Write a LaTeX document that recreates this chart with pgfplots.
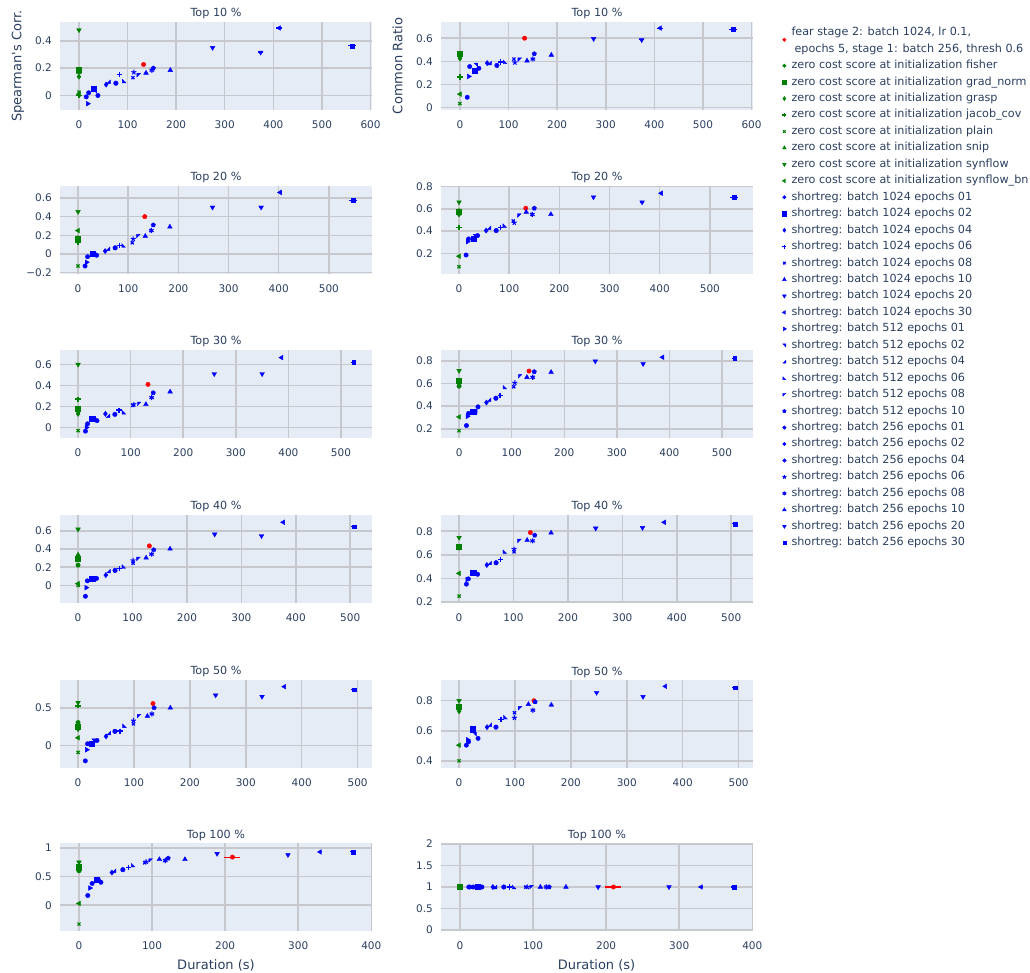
\documentclass[border=0pt]{standalone}
\usepackage{pgfplots}
\pgfplotsset{compat=1.18}
\usepackage{pgfplotstable}
\usepackage{fontspec}
\setmainfont{DejaVu Sans}
\definecolor{bgc}{RGB}{229,236,246}
\definecolor{gridc}{RGB}{198,200,205}
\definecolor{txt}{RGB}{42,63,95}
\definecolor{zg}{RGB}{0,128,0}
\definecolor{bb}{RGB}{0,0,255}
\definecolor{rr}{RGB}{255,0,0}
\newcommand\tickfont{\fontsize{10.5}{12}\selectfont}
\newcommand\titfont{\fontsize{11.2}{13}\selectfont}
\newcommand\legfont{\fontsize{11.2}{13}\selectfont}
\newcommand\labfont{\fontsize{13}{15}\selectfont}

\pgfdeclareplotmark{tup}{\pgfpathmoveto{\pgfpointpolar{90}{\pgfplotmarksize}}\pgfpathlineto{\pgfpointpolar{210}{\pgfplotmarksize}}\pgfpathlineto{\pgfpointpolar{330}{\pgfplotmarksize}}\pgfpathclose\pgfusepathqfillstroke}
\pgfdeclareplotmark{tdn}{\pgfpathmoveto{\pgfpointpolar{270}{\pgfplotmarksize}}\pgfpathlineto{\pgfpointpolar{30}{\pgfplotmarksize}}\pgfpathlineto{\pgfpointpolar{150}{\pgfplotmarksize}}\pgfpathclose\pgfusepathqfillstroke}
\pgfdeclareplotmark{tlf}{\pgfpathmoveto{\pgfpointpolar{180}{\pgfplotmarksize}}\pgfpathlineto{\pgfpointpolar{300}{\pgfplotmarksize}}\pgfpathlineto{\pgfpointpolar{60}{\pgfplotmarksize}}\pgfpathclose\pgfusepathqfillstroke}
\pgfdeclareplotmark{trt}{\pgfpathmoveto{\pgfpointpolar{0}{\pgfplotmarksize}}\pgfpathlineto{\pgfpointpolar{120}{\pgfplotmarksize}}\pgfpathlineto{\pgfpointpolar{240}{\pgfplotmarksize}}\pgfpathclose\pgfusepathqfillstroke}
\pgfdeclareplotmark{tne}{\pgfpathmoveto{\pgfpoint{\pgfplotmarksize}{\pgfplotmarksize}}\pgfpathlineto{\pgfpoint{-\pgfplotmarksize}{\pgfplotmarksize}}\pgfpathlineto{\pgfpoint{\pgfplotmarksize}{-\pgfplotmarksize}}\pgfpathclose\pgfusepathqfillstroke}
\pgfdeclareplotmark{tse}{\pgfpathmoveto{\pgfpoint{\pgfplotmarksize}{-\pgfplotmarksize}}\pgfpathlineto{\pgfpoint{-\pgfplotmarksize}{-\pgfplotmarksize}}\pgfpathlineto{\pgfpoint{\pgfplotmarksize}{\pgfplotmarksize}}\pgfpathclose\pgfusepathqfillstroke}
\pgfdeclareplotmark{tsw}{\pgfpathmoveto{\pgfpoint{-\pgfplotmarksize}{-\pgfplotmarksize}}\pgfpathlineto{\pgfpoint{\pgfplotmarksize}{-\pgfplotmarksize}}\pgfpathlineto{\pgfpoint{-\pgfplotmarksize}{\pgfplotmarksize}}\pgfpathclose\pgfusepathqfillstroke}
\pgfdeclareplotmark{tnw}{\pgfpathmoveto{\pgfpoint{-\pgfplotmarksize}{\pgfplotmarksize}}\pgfpathlineto{\pgfpoint{\pgfplotmarksize}{\pgfplotmarksize}}\pgfpathlineto{\pgfpoint{-\pgfplotmarksize}{-\pgfplotmarksize}}\pgfpathclose\pgfusepathqfillstroke}

\tikzset{
 mkfear/.style={mark=*, rr, mark size=2.2pt},
 mkzfi/.style={mark=*, zg, mark size=2.2pt},
 mkzgn/.style={mark=square*, zg, mark size=2.5pt},
 mkzgr/.style={mark=diamond*, zg, mark size=2.6pt},
 mkzjc/.style={mark=+, zg, mark size=2.6pt, line width=1.3pt},
 mkzpl/.style={mark=x, zg, mark size=2.2pt, line width=1.2pt},
 mkzsn/.style={mark=tup, zg, mark size=2.7pt},
 mkzsy/.style={mark=tdn, zg, mark size=2.7pt},
 mkzsb/.style={mark=tlf, zg, mark size=2.7pt},
 mka01/.style={mark=*, bb, mark size=2.2pt},
 mka02/.style={mark=square*, bb, mark size=2.6pt},
 mka04/.style={mark=diamond*, bb, mark size=2.6pt},
 mka06/.style={mark=+, bb, mark size=2.6pt, line width=1.3pt},
 mka08/.style={mark=x, bb, mark size=2.2pt, line width=1.2pt},
 mka10/.style={mark=tup, bb, mark size=2.7pt},
 mka20/.style={mark=tdn, bb, mark size=2.7pt},
 mka30/.style={mark=tlf, bb, mark size=2.7pt},
 mkb01/.style={mark=trt, bb, mark size=2.7pt},
 mkb02/.style={mark=tne, bb, mark size=1.8pt},
 mkb04/.style={mark=tse, bb, mark size=1.8pt},
 mkb06/.style={mark=tsw, bb, mark size=1.8pt},
 mkb08/.style={mark=tnw, bb, mark size=1.8pt},
 mkb10/.style={mark=pentagon*, bb, mark size=2.3pt},
 mkc01/.style={mark=*, bb, mark size=2.2pt},
 mkc02/.style={mark=*, bb, mark size=2.2pt},
 mkc04/.style={mark=*, bb, mark size=2.3pt},
 mkc06/.style={mark=star, bb, mark size=2.6pt, line width=1pt},
 mkc08/.style={mark=asterisk, bb, mark size=2.6pt, line width=1.1pt},
 mkc10/.style={mark=tup, bb, mark size=2.7pt},
 mkc20/.style={mark=tdn, bb, mark size=2.7pt},
 mkc30/.style={mark=square*, bb, mark size=1.9pt},
}

\pgfplotsset{
 classes/.style={scatter/classes={fear={mkfear},zfi={mkzfi},zgn={mkzgn},zgr={mkzgr},zjc={mkzjc},zpl={mkzpl},zsn={mkzsn},zsy={mkzsy},zsb={mkzsb},
  a01={mka01},a02={mka02},a04={mka04},a06={mka06},a08={mka08},a10={mka10},a20={mka20},a30={mka30},
  b01={mkb01},b02={mkb02},b04={mkb04},b06={mkb06},b08={mkb08},b10={mkb10},
  c01={mkc01},c02={mkc02},c04={mkc04},c06={mkc06},c08={mkc08},c10={mkc10},c20={mkc20},c30={mkc30}}},
 panel/.style={scale only axis, width=312pt, height=88pt, anchor=north west,
  axis background/.style={fill=bgc}, axis line style={draw=none}, major tick length=0pt,
  grid=major, grid style={draw=gridc, line width=1.5pt},
  /pgf/number format/assume math mode=true,
  tick label style={font=\tickfont, text=txt},
  xticklabel style={anchor=north, inner sep=0pt, yshift=-11pt},
  yticklabel style={anchor=east, inner sep=0pt, xshift=-8pt},
  title style={at={(0.5,1)}, anchor=base, yshift=-1pt, inner sep=0pt, font=\titfont, text=txt},
  clip=false},
 pts/.style={scatter, only marks, scatter src=explicit symbolic, classes, forget plot},
 errb/.style={draw=none, mark=none, forget plot, skip coords between index={0}{1},
   error bars/.cd, x dir=both, x explicit, error mark=none, error bar style={bb, line width=1.1pt}},
 errr/.style={draw=none, mark=none, forget plot, skip coords between index={1}{40},
   error bars/.cd, x dir=both, x explicit, error mark=none, error bar style={rr, line width=1.1pt}},
}

\pgfplotstableread{
x sp cr ex c
133 0.227 0.600 0 fear
0 0.180 0.445 0 zfi
0 0.190 0.470 0 zgn
0 0.138 0.425 0 zgr
0 0.000 0.265 0 zjc
0 0.025 0.035 0 zpl
0 0.170 0.455 0 zsn
0 0.479 0.460 0 zsy
0 0.010 0.117 0 zsb
15 -0.010 0.090 0 a01
30 0.050 0.320 0 a02
56 0.080 0.385 0 a04
84 0.155 0.395 0 a06
111 0.130 0.420 0 a08
138 0.165 0.405 0 a10
275 0.350 0.595 3 a20
412 0.494 0.687 6 a30
18 -0.060 0.270 0 b01
33 0.030 0.370 0 b02
61 0.100 0.385 0 b04
93 0.105 0.395 0 b06
123 0.150 0.415 0 b08
153 0.200 0.465 0 b10
20 0.020 0.355 0 c01
39 0.000 0.340 0 c02
76 0.090 0.365 0 c04
113 0.170 0.390 0 c06
150 0.185 0.420 0 c08
188 0.185 0.455 0 c10
374 0.315 0.585 5 c20
562 0.363 0.675 9 c30
}\rowA

\pgfplotstableread{
x sp cr ex c
133 0.400 0.605 0 fear
0 0.150 0.560 0 zfi
0 0.160 0.570 0 zgn
0 0.130 0.550 0 zgr
0 0.120 0.435 0 zjc
0 -0.130 0.080 0 zpl
0 0.170 0.580 0 zsn
0 0.453 0.660 0 zsy
0 0.250 0.175 0 zsb
14 -0.130 0.185 0 a01
29 0.000 0.330 0 a02
54 0.030 0.405 0 a04
82 0.090 0.430 0 a06
108 0.120 0.490 0 a08
134 0.190 0.570 0 a10
268 0.500 0.705 2 a20
403 0.660 0.740 4 a30
17 -0.090 0.305 0 b01
32 0.000 0.355 0 b02
60 0.055 0.430 0 b04
91 0.090 0.450 0 b06
120 0.190 0.540 0 b08
150 0.310 0.605 0 b10
19 -0.030 0.330 0 c01
37 -0.015 0.360 0 c02
74 0.065 0.405 0 c04
110 0.160 0.475 0 c06
146 0.250 0.550 0 c08
183 0.290 0.550 0 c10
365 0.500 0.660 4 c20
548 0.577 0.705 8 c30
}\rowB

\pgfplotstableread{
x sp cr ex c
133 0.410 0.710 0 fear
0 0.160 0.577 0 zfi
0 0.175 0.623 0 zgn
0 0.130 0.580 0 zgr
0 0.270 0.600 0 zjc
0 -0.030 0.183 0 zpl
0 0.180 0.620 0 zsn
0 0.600 0.713 0 zsy
0 0.160 0.305 0 zsb
14 -0.035 0.229 0 a01
27 0.080 0.353 0 a02
52 0.130 0.432 0 a04
78 0.165 0.496 0 a06
104 0.210 0.571 0 a08
129 0.220 0.655 0 a10
259 0.510 0.797 0 a20
387 0.665 0.832 3 a30
16 0.000 0.310 0 b01
31 0.075 0.355 0 b02
57 0.110 0.455 0 b04
87 0.145 0.568 0 b06
116 0.225 0.664 0 b08
143 0.330 0.704 0 b10
18 0.035 0.336 0 c01
36 0.065 0.394 0 c02
70 0.125 0.470 0 c04
106 0.220 0.606 0 c06
140 0.285 0.655 0 c08
175 0.340 0.700 0 c10
350 0.510 0.774 3 c20
524 0.620 0.823 5 c30
}\rowC

\pgfplotstableread{
x sp cr ex c
131 0.435 0.789 0 fear
0 0.223 0.660 0 zfi
0 0.290 0.665 0 zgn
0 0.300 0.660 0 zgr
0 0.310 0.660 0 zjc
0 0.000 0.248 0 zpl
0 0.336 0.665 0 zsn
0 0.618 0.746 0 zsy
0 0.020 0.442 0 zsb
13.5 -0.120 0.350 0 a01
26 0.073 0.445 0 a02
51 0.113 0.513 0 a04
76 0.183 0.558 0 a06
101 0.245 0.625 0 a08
125 0.303 0.724 0 a10
251 0.563 0.825 0 a20
377 0.695 0.876 3 a30
15 -0.025 0.390 0 b01
29 0.075 0.440 0 b02
56 0.157 0.530 0 b04
84 0.208 0.627 0 b06
111 0.292 0.718 0 b08
139 0.391 0.766 0 b10
17 0.050 0.395 0 c01
34 0.077 0.434 0 c02
68 0.165 0.532 0 c04
101 0.274 0.648 0 c06
135 0.344 0.718 0 c08
169 0.402 0.786 0 c10
337 0.545 0.830 2 c20
507 0.647 0.862 5 c30
}\rowD

\pgfplotstableread{
x sp cr ex c
134 0.557 0.800 0 fear
0 0.307 0.750 0 zfi
0 0.250 0.760 0 zgn
0 0.220 0.730 0 zgr
0 0.526 0.740 0 zjc
0 -0.088 0.400 0 zpl
0 0.230 0.760 0 zsn
0 0.570 0.800 0 zsy
0 0.105 0.504 0 zsb
13 -0.200 0.504 0 a01
25 0.022 0.611 0 a02
50 0.123 0.624 0 a04
75 0.193 0.677 0 a06
99 0.290 0.720 0 a08
124 0.390 0.776 0 a10
246 0.667 0.854 0 a20
369 0.780 0.896 2 a30
15.6 -0.053 0.540 0 b01
28 0.066 0.577 0 b02
55 0.167 0.640 0 b04
83 0.263 0.690 0 b06
109 0.390 0.750 0 b08
136 0.500 0.792 0 b10
17 0.026 0.527 0 c01
34 0.070 0.549 0 c02
66 0.190 0.624 0 c04
99 0.330 0.686 0 c06
132 0.420 0.737 0 c08
165 0.500 0.772 0 c10
329 0.649 0.827 2 c20
494 0.740 0.887 5 c30
}\rowE

\pgfplotstableread{
x sp cr ex c
210 0.840 1 11 fear
0 0.600 1 0 zfi
0 0.650 1 0 zgn
0 0.620 1 0 zgr
0 0.700 1 0 zjc
0 -0.330 1 0 zpl
0 0.630 1 0 zsn
0 0.750 1 0 zsy
0 0.030 1 0 zsb
12 0.170 1 0 a01
24 0.450 1 0 a02
45 0.570 1 0 a04
68 0.660 1 0 a06
90 0.740 1 0 a08
110 0.800 1 0 a10
189 0.900 1 0 a20
330 0.930 1 3 a30
15 0.300 1 0 b01
27 0.430 1 0 b02
48 0.600 1 0 b04
74 0.700 1 0 b06
98 0.780 1 0 b08
122 0.820 1 0 b10
18 0.380 1 0 c01
30 0.400 1 0 c02
60 0.620 1 0 c04
92 0.760 1 0 c06
118 0.780 1 0 c08
145 0.800 1 0 c10
286 0.880 1 0 c20
375 0.930 1 4 c30
}\rowF

\begin{document}
\begin{tikzpicture}
\useasboundingbox (0,0) rectangle (1030pt,972pt);

% ---------- Row 1: Top 10
\begin{axis}[panel, at={(60pt,950pt)}, title={Top 10 \%},
 xmin=-39, xmax=603, ymin=-0.106, ymax=0.538,
 xtick={0,100,200,300,400,500,600}, ytick={0,0.2,0.4}, yticklabels={0,0.2,0.4}]
\addplot[errb] table[x=x, y=sp, x error=ex]{\rowA};
\addplot[pts] table[x=x, y=sp, meta=c]{\rowA};
\end{axis}
\begin{axis}[panel, at={(441pt,950pt)}, title={Top 10 \%},
 xmin=-39, xmax=603, ymin=-0.02, ymax=0.74,
 xtick={0,100,200,300,400,500,600}, ytick={0,0.2,0.4,0.6}, yticklabels={0,0.2,0.4,0.6},
 legend image code/.code={\draw[#1, mark options={scale=0.8}] plot coordinates {(0pt,0pt)};},
 legend cell align=left,
 legend style={at={(1.093,0.942)}, anchor=north west, draw=none, fill=none, inner sep=0pt,
   font=\legfont, text=txt, row sep=5.45pt, column sep=5pt,
   nodes={inner sep=0pt, text height=8.4pt, text depth=2.6pt}}]
\addplot[errb] table[x=x, y=cr, x error=ex]{\rowA};
\addplot[pts] table[x=x, y=cr, meta=c]{\rowA};
\addlegendimage{only marks, mkfear, yshift=-7pt, overlay}
\addlegendentry{fear stage 2: batch 1024, lr 0.1,}
\addlegendimage{empty legend}
\addlegendentry{\hspace{3pt}epochs 5, stage 1: batch 256, thresh 0.6}
\addlegendimage{only marks, mkzfi}\addlegendentry{zero cost score at initialization fisher}
\addlegendimage{only marks, mkzgn}\addlegendentry{zero cost score at initialization grad\_norm}
\addlegendimage{only marks, mkzgr}\addlegendentry{zero cost score at initialization grasp}
\addlegendimage{only marks, mkzjc}\addlegendentry{zero cost score at initialization jacob\_cov}
\addlegendimage{only marks, mkzpl}\addlegendentry{zero cost score at initialization plain}
\addlegendimage{only marks, mkzsn}\addlegendentry{zero cost score at initialization snip}
\addlegendimage{only marks, mkzsy}\addlegendentry{zero cost score at initialization synflow}
\addlegendimage{only marks, mkzsb}\addlegendentry{zero cost score at initialization synflow\_bn}
\addlegendimage{only marks, mka01}\addlegendentry{shortreg: batch 1024 epochs 01}
\addlegendimage{only marks, mka02}\addlegendentry{shortreg: batch 1024 epochs 02}
\addlegendimage{only marks, mka04}\addlegendentry{shortreg: batch 1024 epochs 04}
\addlegendimage{only marks, mka06}\addlegendentry{shortreg: batch 1024 epochs 06}
\addlegendimage{only marks, mka08}\addlegendentry{shortreg: batch 1024 epochs 08}
\addlegendimage{only marks, mka10}\addlegendentry{shortreg: batch 1024 epochs 10}
\addlegendimage{only marks, mka20}\addlegendentry{shortreg: batch 1024 epochs 20}
\addlegendimage{only marks, mka30}\addlegendentry{shortreg: batch 1024 epochs 30}
\addlegendimage{only marks, mkb01}\addlegendentry{shortreg: batch 512 epochs 01}
\addlegendimage{only marks, mkb02}\addlegendentry{shortreg: batch 512 epochs 02}
\addlegendimage{only marks, mkb04}\addlegendentry{shortreg: batch 512 epochs 04}
\addlegendimage{only marks, mkb06}\addlegendentry{shortreg: batch 512 epochs 06}
\addlegendimage{only marks, mkb08}\addlegendentry{shortreg: batch 512 epochs 08}
\addlegendimage{only marks, mkb10}\addlegendentry{shortreg: batch 512 epochs 10}
\addlegendimage{only marks, mkc01}\addlegendentry{shortreg: batch 256 epochs 01}
\addlegendimage{only marks, mkc02}\addlegendentry{shortreg: batch 256 epochs 02}
\addlegendimage{only marks, mkc04}\addlegendentry{shortreg: batch 256 epochs 04}
\addlegendimage{only marks, mkc06}\addlegendentry{shortreg: batch 256 epochs 06}
\addlegendimage{only marks, mkc08}\addlegendentry{shortreg: batch 256 epochs 08}
\addlegendimage{only marks, mkc10}\addlegendentry{shortreg: batch 256 epochs 10}
\addlegendimage{only marks, mkc20}\addlegendentry{shortreg: batch 256 epochs 20}
\addlegendimage{only marks, mkc30}\addlegendentry{shortreg: batch 256 epochs 30}
\end{axis}

% ---------- Row 2: Top 20
\begin{axis}[panel, at={(60pt,786pt)}, title={Top 20 \%},
 xmin=-36, xmax=586, ymin=-0.216, ymax=0.729,
 xtick={0,100,200,300,400,500}, ytick={-0.2,0,0.2,0.4,0.6}, yticklabels={−0.2,0,0.2,0.4,0.6}]
\addplot[errb] table[x=x, y=sp, x error=ex]{\rowB};
\addplot[pts] table[x=x, y=sp, meta=c]{\rowB};
\end{axis}
\begin{axis}[panel, at={(441pt,786pt)}, title={Top 20 \%},
 xmin=-36, xmax=586, ymin=0.015, ymax=0.805,
 xtick={0,100,200,300,400,500}, ytick={0.2,0.4,0.6,0.8}, yticklabels={0.2,0.4,0.6,0.8}]
\addplot[errb] table[x=x, y=cr, x error=ex]{\rowB};
\addplot[pts] table[x=x, y=cr, meta=c]{\rowB};
\end{axis}

% ---------- Row 3: Top 30
\begin{axis}[panel, at={(60pt,622pt)}, title={Top 30 \%},
 xmin=-34.4, xmax=559, ymin=-0.1, ymax=0.7375,
 xtick={0,100,200,300,400,500}, ytick={0,0.2,0.4,0.6}, yticklabels={0,0.2,0.4,0.6}]
\addplot[errb] table[x=x, y=sp, x error=ex]{\rowC};
\addplot[pts] table[x=x, y=sp, meta=c]{\rowC};
\end{axis}
\begin{axis}[panel, at={(441pt,622pt)}, title={Top 30 \%},
 xmin=-34.4, xmax=559, ymin=0.119, ymax=0.896,
 xtick={0,100,200,300,400,500}, ytick={0.2,0.4,0.6,0.8}, yticklabels={0.2,0.4,0.6,0.8}]
\addplot[errb] table[x=x, y=cr, x error=ex]{\rowC};
\addplot[pts] table[x=x, y=cr, meta=c]{\rowC};
\end{axis}

% ---------- Row 4: Top 40
\begin{axis}[panel, at={(60pt,457pt)}, title={Top 40 \%},
 xmin=-33.2, xmax=540, ymin=-0.194, ymax=0.775,
 xtick={0,100,200,300,400,500}, ytick={0,0.2,0.4,0.6}, yticklabels={0,0.2,0.4,0.6}]
\addplot[errb] table[x=x, y=sp, x error=ex]{\rowD};
\addplot[pts] table[x=x, y=sp, meta=c]{\rowD};
\end{axis}
\begin{axis}[panel, at={(441pt,457pt)}, title={Top 40 \%},
 xmin=-33.2, xmax=540, ymin=0.19, ymax=0.938,
 xtick={0,100,200,300,400,500}, ytick={0.2,0.4,0.6,0.8}, yticklabels={0.2,0.4,0.6,0.8}]
\addplot[errb] table[x=x, y=cr, x error=ex]{\rowD};
\addplot[pts] table[x=x, y=cr, meta=c]{\rowD};
\end{axis}

% ---------- Row 5: Top 50
\begin{axis}[panel, at={(60pt,292pt)}, title={Top 50 \%},
 xmin=-32.3, xmax=525.7, ymin=-0.294, ymax=0.868,
 xtick={0,100,200,300,400,500}, ytick={0,0.5}, yticklabels={0,0.5}]
\addplot[errb] table[x=x, y=sp, x error=ex]{\rowE};
\addplot[pts] table[x=x, y=sp, meta=c]{\rowE};
\end{axis}
\begin{axis}[panel, at={(441pt,292pt)}, title={Top 50 \%},
 xmin=-32.3, xmax=525.7, ymin=0.352, ymax=0.938,
 xtick={0,100,200,300,400,500}, ytick={0.4,0.6,0.8}, yticklabels={0.4,0.6,0.8}]
\addplot[errb] table[x=x, y=cr, x error=ex]{\rowE};
\addplot[pts] table[x=x, y=cr, meta=c]{\rowE};
\end{axis}

% ---------- Row 6: Top 100
\begin{axis}[panel, at={(60pt,129pt)}, title={Top 100 \%},
 xmin=-26, xmax=401, ymin=-0.45, ymax=1.086,
 xtick={0,100,200,300,400}, ytick={0,0.5,1}, yticklabels={0,0.5,1}]
\addplot[errb] table[x=x, y=sp, x error=ex]{\rowF};
\addplot[errr] table[x=x, y=sp, x error=ex]{\rowF};
\addplot[pts] table[x=x, y=sp, meta=c]{\rowF};
\end{axis}
\begin{axis}[panel, at={(441pt,129pt)}, title={Top 100 \%},
 xmin=-26, xmax=401, ymin=-0.02, ymax=2.02,
 xtick={0,100,200,300,400}, ytick={0,0.5,1,1.5,2}, yticklabels={0,0.5,1,1.5,2}]
\addplot[errb] table[x=x, y=cr, x error=ex]{\rowF};
\addplot[errr] table[x=x, y=cr, x error=ex]{\rowF};
\addplot[pts] table[x=x, y=cr, meta=c]{\rowF};
\end{axis}

\node[rotate=90, font=\labfont, text=txt] at (18pt,906pt) {Spearman\textquotesingle s Corr.};
\node[rotate=90, font=\labfont, text=txt] at (397.5pt,906pt) {Common Ratio};
\node[font=\labfont, text=txt] at (216pt,7pt) {Duration (s)};
\node[font=\labfont, text=txt] at (596.5pt,7pt) {Duration (s)};
\end{tikzpicture}
\end{document}
